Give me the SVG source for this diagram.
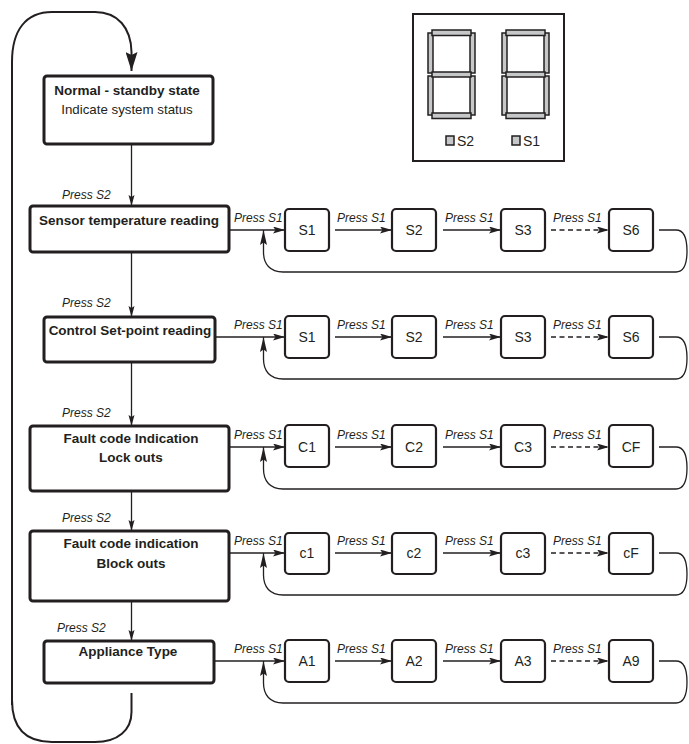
<svg xmlns="http://www.w3.org/2000/svg" width="689" height="744" viewBox="0 0 689 744">
<style>
text{font-family:"Liberation Sans",Arial,sans-serif;fill:#231f20}
.title{font-size:13.5px;font-weight:bold;text-anchor:middle}
.sub{font-size:13.3px;text-anchor:middle}
.lbl{font-size:12px;font-style:italic}
.sb{font-size:14px;text-anchor:middle}
.mbox{fill:#fff;stroke:#231f20;stroke-width:3}
.sbox{fill:#fff;stroke:#231f20;stroke-width:2.2}
.ln{fill:none;stroke:#231f20;stroke-width:1.3}
.dash{stroke-dasharray:5 3.5}
.loop{fill:none;stroke:#231f20;stroke-width:2}
.seg{fill:#c6c7c8;stroke:#231f20;stroke-width:1.5}
</style>
<defs>
<marker id="ah" markerUnits="userSpaceOnUse" markerWidth="12" markerHeight="7" refX="12" refY="3.5" orient="auto"><path d="M0,0 L12,3.5 L0,7 L2.5,3.5 z" fill="#231f20"/></marker>
<marker id="ahv" markerUnits="userSpaceOnUse" markerWidth="11" markerHeight="7" refX="11" refY="3.5" orient="auto"><path d="M0,0.5 L11,3.5 L0,6.5 L2,3.5 z" fill="#231f20"/></marker>
<marker id="ahu" markerUnits="userSpaceOnUse" markerWidth="15" markerHeight="8" refX="15" refY="4" orient="auto"><path d="M0,0.5 L15,4 L0,7.5 L2.5,4 z" fill="#231f20"/></marker>
<marker id="ahb" markerUnits="userSpaceOnUse" markerWidth="19" markerHeight="12" refX="19" refY="6" orient="auto"><path d="M0,0 L19,6 L0,12 L3,6 z" fill="#231f20"/></marker>
</defs>

<g id="display">
<rect x="413" y="14" width="151" height="147" fill="#fff" stroke="#231f20" stroke-width="2"/>
<g id="digit1">
<rect class="seg" x="428" y="33" width="5" height="40"/>
<rect class="seg" x="470" y="33" width="5" height="40"/>
<rect class="seg" x="428" y="76" width="5" height="39"/>
<rect class="seg" x="470" y="76" width="5" height="39"/>
<rect class="seg" x="432" y="30" width="39" height="5.5"/>
<rect class="seg" x="432" y="72" width="39" height="5"/>
<rect class="seg" x="432" y="113" width="39" height="5.5"/>
</g>
<g id="digit2" transform="translate(74,0)">
<rect class="seg" x="428" y="33" width="5" height="40"/>
<rect class="seg" x="470" y="33" width="5" height="40"/>
<rect class="seg" x="428" y="76" width="5" height="39"/>
<rect class="seg" x="470" y="76" width="5" height="39"/>
<rect class="seg" x="432" y="30" width="39" height="5.5"/>
<rect class="seg" x="432" y="72" width="39" height="5"/>
<rect class="seg" x="432" y="113" width="39" height="5.5"/>
</g>
<rect class="seg" x="446" y="136" width="8" height="9"/>
<text x="457" y="146" style="font-size:14px">S2</text>
<rect class="seg" x="512" y="136" width="8" height="9"/>
<text x="523" y="146" style="font-size:14px">S1</text>
</g>

<g id="connectors">
<path class="loop" d="M12,705 V62 C12,30 26,12 52,12 H95 C118,12 131,28 131.5,52 L131.5,71" marker-end="url(#ahb)"/>
<path class="loop" d="M12,700 C12,728 26,742 52,742 H95 C118,742 131.5,730 131.5,712 V693"/>
<path class="ln" d="M131.5,144 V206" marker-end="url(#ahv)"/>
<path class="ln" d="M131.5,252 V317" marker-end="url(#ahv)"/>
<path class="ln" d="M131.5,362 V426" marker-end="url(#ahv)"/>
<path class="ln" d="M131.5,491 V531" marker-end="url(#ahv)"/>
<path class="ln" d="M131.5,601 V641" marker-end="url(#ahv)"/>

<path class="ln" d="M229,230 H285" marker-end="url(#ah)"/>
<path class="ln" d="M335,230 H392" marker-end="url(#ah)"/>
<path class="ln" d="M443,230 H501" marker-end="url(#ah)"/>
<path class="ln dash" d="M551,230 H609" marker-end="url(#ah)"/>
<path class="ln" d="M659,230 H676 C685,230 687,240 687,251 C687,262 685,272 676,272 H283 C270,272 263.5,264 263.5,252 V230" marker-end="url(#ahu)"/>

<path class="ln" d="M215,337 H285" marker-end="url(#ah)"/>
<path class="ln" d="M335,337 H392" marker-end="url(#ah)"/>
<path class="ln" d="M443,337 H501" marker-end="url(#ah)"/>
<path class="ln dash" d="M551,337 H609" marker-end="url(#ah)"/>
<path class="ln" d="M659,337 H676 C685,337 687,347 687,358 C687,369 685,379 676,379 H283 C270,379 263.5,371 263.5,359 V337" marker-end="url(#ahu)"/>

<path class="ln" d="M229,447 H285" marker-end="url(#ah)"/>
<path class="ln" d="M335,447 H392" marker-end="url(#ah)"/>
<path class="ln" d="M443,447 H501" marker-end="url(#ah)"/>
<path class="ln dash" d="M551,447 H609" marker-end="url(#ah)"/>
<path class="ln" d="M659,447 H676 C685,447 687,457 687,468 C687,479 685,489 676,489 H283 C270,489 263.5,481 263.5,469 V447" marker-end="url(#ahu)"/>

<path class="ln" d="M229,553 H285" marker-end="url(#ah)"/>
<path class="ln" d="M335,553 H392" marker-end="url(#ah)"/>
<path class="ln" d="M443,553 H501" marker-end="url(#ah)"/>
<path class="ln dash" d="M551,553 H609" marker-end="url(#ah)"/>
<path class="ln" d="M659,553 H676 C685,553 687,563 687,574 C687,585 685,595 676,595 H283 C270,595 263.5,587 263.5,575 V553" marker-end="url(#ahu)"/>

<path class="ln" d="M214,661 H285" marker-end="url(#ah)"/>
<path class="ln" d="M335,661 H392" marker-end="url(#ah)"/>
<path class="ln" d="M443,661 H501" marker-end="url(#ah)"/>
<path class="ln dash" d="M551,661 H609" marker-end="url(#ah)"/>
<path class="ln" d="M659,661 H676 C685,661 687,671 687,682 C687,693 685,703 676,703 H283 C270,703 263.5,695 263.5,683 V661" marker-end="url(#ahu)"/>
</g>

<g id="labels">
<text class="lbl" x="62" y="199">Press S2</text>
<text class="lbl" x="62" y="307">Press S2</text>
<text class="lbl" x="62" y="417">Press S2</text>
<text class="lbl" x="62" y="522">Press S2</text>
<text class="lbl" x="57" y="632">Press S2</text>
<g id="pressS1">
<text class="lbl" x="234" y="222">Press S1</text><text class="lbl" x="337" y="222">Press S1</text><text class="lbl" x="445" y="222">Press S1</text><text class="lbl" x="553" y="222">Press S1</text>
<text class="lbl" x="234" y="329">Press S1</text><text class="lbl" x="337" y="329">Press S1</text><text class="lbl" x="445" y="329">Press S1</text><text class="lbl" x="553" y="329">Press S1</text>
<text class="lbl" x="234" y="439">Press S1</text><text class="lbl" x="337" y="439">Press S1</text><text class="lbl" x="445" y="439">Press S1</text><text class="lbl" x="553" y="439">Press S1</text>
<text class="lbl" x="234" y="545">Press S1</text><text class="lbl" x="337" y="545">Press S1</text><text class="lbl" x="445" y="545">Press S1</text><text class="lbl" x="553" y="545">Press S1</text>
<text class="lbl" x="234" y="653">Press S1</text><text class="lbl" x="337" y="653">Press S1</text><text class="lbl" x="445" y="653">Press S1</text><text class="lbl" x="553" y="653">Press S1</text>
</g>
</g>

<g id="n-standby"><rect class="mbox" x="44" y="76" width="169" height="68" rx="3"/><text class="title" x="127" y="95">Normal - standby state</text><text class="sub" x="127" y="114">Indicate system status</text></g>
<g id="n-sensor"><rect class="mbox" x="30" y="206" width="199" height="46" rx="3"/><text class="title" x="129" y="225">Sensor temperature reading</text></g>
<g id="n-setpoint"><rect class="mbox" x="44" y="317" width="171" height="45" rx="3"/><text class="title" x="130" y="335">Control Set-point reading</text></g>
<g id="n-lockouts"><rect class="mbox" x="30" y="426" width="199" height="65" rx="3"/><text class="title" x="131" y="443">Fault code Indication</text><text class="title" x="131" y="462">Lock outs</text></g>
<g id="n-blockouts"><rect class="mbox" x="30" y="531" width="199" height="70" rx="3"/><text class="title" x="131" y="548">Fault code indication</text><text class="title" x="131" y="568">Block outs</text></g>
<g id="n-appliance"><rect class="mbox" x="44" y="641" width="170" height="42" rx="3"/><text class="title" x="128" y="656">Appliance Type</text></g>

<g id="row1">
<g id="r1-S1"><rect class="sbox" x="285" y="209" width="44" height="42" rx="4"/><text class="sb" x="307" y="235">S1</text></g>
<g id="r1-S2"><rect class="sbox" x="392" y="209" width="44" height="42" rx="4"/><text class="sb" x="414" y="235">S2</text></g>
<g id="r1-S3"><rect class="sbox" x="501" y="209" width="44" height="42" rx="4"/><text class="sb" x="523" y="235">S3</text></g>
<g id="r1-S6"><rect class="sbox" x="609" y="209" width="44" height="42" rx="4"/><text class="sb" x="631" y="235">S6</text></g>
</g>
<g id="row2">
<g id="r2-S1"><rect class="sbox" x="285" y="316" width="44" height="42" rx="4"/><text class="sb" x="307" y="342">S1</text></g>
<g id="r2-S2"><rect class="sbox" x="392" y="316" width="44" height="42" rx="4"/><text class="sb" x="414" y="342">S2</text></g>
<g id="r2-S3"><rect class="sbox" x="501" y="316" width="44" height="42" rx="4"/><text class="sb" x="523" y="342">S3</text></g>
<g id="r2-S6"><rect class="sbox" x="609" y="316" width="44" height="42" rx="4"/><text class="sb" x="631" y="342">S6</text></g>
</g>
<g id="row3">
<g id="r3-C1"><rect class="sbox" x="285" y="425" width="44" height="42" rx="4"/><text class="sb" x="307" y="452">C1</text></g>
<g id="r3-C2"><rect class="sbox" x="392" y="425" width="44" height="42" rx="4"/><text class="sb" x="414" y="452">C2</text></g>
<g id="r3-C3"><rect class="sbox" x="501" y="425" width="44" height="42" rx="4"/><text class="sb" x="523" y="452">C3</text></g>
<g id="r3-CF"><rect class="sbox" x="609" y="425" width="44" height="42" rx="4"/><text class="sb" x="631" y="452">CF</text></g>
</g>
<g id="row4">
<g id="r4-c1"><rect class="sbox" x="285" y="533" width="44" height="41" rx="4"/><text class="sb" x="307" y="558">c1</text></g>
<g id="r4-c2"><rect class="sbox" x="392" y="533" width="44" height="41" rx="4"/><text class="sb" x="414" y="558">c2</text></g>
<g id="r4-c3"><rect class="sbox" x="501" y="533" width="44" height="41" rx="4"/><text class="sb" x="523" y="558">c3</text></g>
<g id="r4-cF"><rect class="sbox" x="609" y="533" width="44" height="41" rx="4"/><text class="sb" x="631" y="558">cF</text></g>
</g>
<g id="row5">
<g id="r5-A1"><rect class="sbox" x="285" y="640" width="44" height="42" rx="4"/><text class="sb" x="307" y="666">A1</text></g>
<g id="r5-A2"><rect class="sbox" x="392" y="640" width="44" height="42" rx="4"/><text class="sb" x="414" y="666">A2</text></g>
<g id="r5-A3"><rect class="sbox" x="501" y="640" width="44" height="42" rx="4"/><text class="sb" x="523" y="666">A3</text></g>
<g id="r5-A9"><rect class="sbox" x="609" y="640" width="44" height="42" rx="4"/><text class="sb" x="631" y="666">A9</text></g>
</g>
</svg>
